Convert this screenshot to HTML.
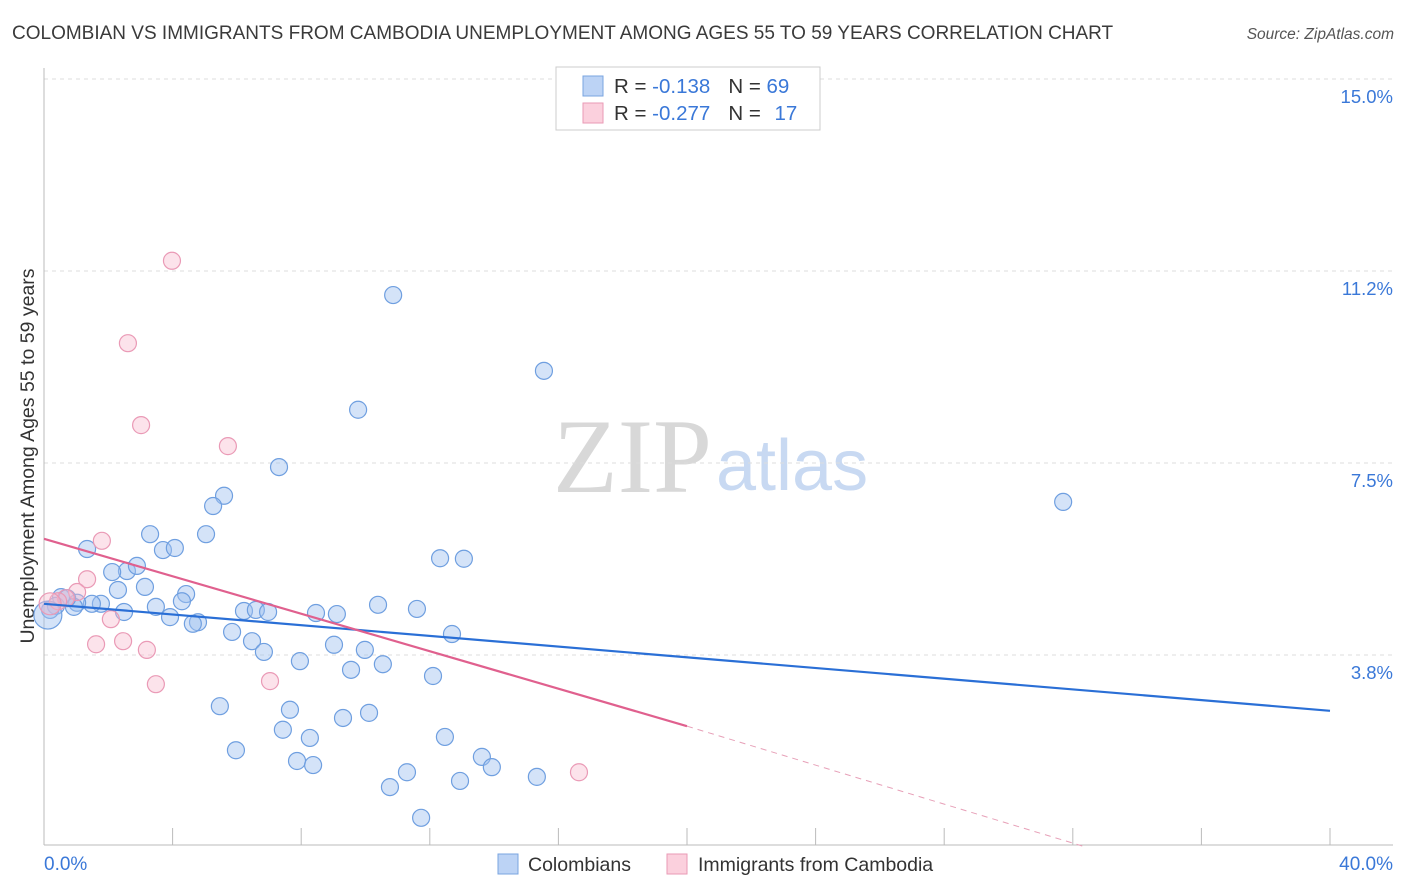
<!DOCTYPE html>
<html><head><meta charset="utf-8"><style>
body{margin:0;background:#fff;font-family:"Liberation Sans",sans-serif;}
svg{display:block}
</style></head><body>
<svg id="chart" width="1406" height="892">
<text x="12" y="39" font-size="19" fill="#3a3a3a">COLOMBIAN VS IMMIGRANTS FROM CAMBODIA UNEMPLOYMENT AMONG AGES 55 TO 59 YEARS CORRELATION CHART</text>
<text x="1394" y="39" font-size="15.5" fill="#555" font-style="italic" text-anchor="end">Source: ZipAtlas.com</text>
<text x="553" y="492" font-size="106" fill="#d8d8d8" font-family="Liberation Serif, serif">ZIP</text>
<text x="716" y="490" font-size="72" fill="#c8d9f2">atlas</text>
<g id="grid"></g>
<line x1="44" y1="68" x2="44" y2="845" stroke="#bbb"/>
<line x1="44" y1="845" x2="1393" y2="845" stroke="#bbb"/>
<text transform="translate(34,456) rotate(-90)" font-size="19.5" fill="#333" text-anchor="middle">Unemployment Among Ages 55 to 59 years</text>
<text x="44" y="870" font-size="19" fill="#3a78d8">0.0%</text>
<text x="1393" y="870" font-size="19" fill="#3a78d8" text-anchor="end">40.0%</text>
<g id="pts"></g>
<g id="lines"></g>
<g>
<rect x="556" y="67" width="264" height="63" fill="#fff" stroke="#ccc"/>
<rect x="583" y="76" width="20" height="20" fill="#bcd3f5" stroke="#7aa5e0"/>
<rect x="583" y="103" width="20" height="20" fill="#fbd0dd" stroke="#e99ab5"/>
<text x="614" y="93" font-size="20.5" fill="#333">R = <tspan fill="#3a78d8">-0.138</tspan><tspan dx="18">N = </tspan><tspan fill="#3a78d8">69</tspan></text>
<text x="614" y="120" font-size="20.5" fill="#333">R = <tspan fill="#3a78d8">-0.277</tspan><tspan dx="18">N = </tspan><tspan fill="#3a78d8" dx="8">17</tspan></text>
</g>
<rect x="498" y="854" width="20" height="20" fill="#bcd3f5" stroke="#7aa5e0"/>
<text x="528" y="871" font-size="19.5" fill="#333">Colombians</text>
<rect x="667" y="854" width="20" height="20" fill="#fbd0dd" stroke="#e99ab5"/>
<text x="698" y="871" font-size="19.5" fill="#333">Immigrants from Cambodia</text>
</svg>
<script>
const yTicks=[3.75,7.5,11.25,15];
const yTickLabels=["3.8%","7.5%","11.2%","15.0%"];
const xTicks=[4,8,12,16,20,24,28,32,36,40];
const blueX=[10.86,15.55,9.77,7.31,31.70,5.60,5.26,3.30,5.04,1.34,3.70,4.07,12.32,13.06,2.58,2.12,2.89,3.14,2.30,4.42,4.29,3.48,2.49,3.92,1.77,1.49,1.03,0.93,0.53,0.37,0.19,0.12,6.22,6.59,6.97,8.46,9.11,10.39,11.60,4.79,4.63,5.85,12.69,6.47,6.84,9.02,9.98,7.96,9.55,10.54,12.10,5.47,7.65,9.30,10.11,7.43,8.27,12.47,5.97,7.87,8.37,13.62,13.93,11.29,12.94,15.33,10.76,11.73,0.72];
const blueY=[10.78,9.30,8.54,7.42,6.74,6.86,6.66,6.11,6.11,5.82,5.80,5.84,5.64,5.63,5.39,5.37,5.49,5.08,5.02,4.94,4.80,4.69,4.59,4.49,4.75,4.75,4.77,4.69,4.88,4.71,4.63,4.53,4.61,4.63,4.59,4.57,4.55,4.73,4.65,4.39,4.36,4.20,4.16,4.02,3.81,3.95,3.85,3.63,3.46,3.57,3.34,2.75,2.68,2.52,2.62,2.29,2.13,2.15,1.89,1.68,1.60,1.76,1.56,1.46,1.29,1.37,1.17,0.57,4.86];
const pinkX=[3.98,2.61,3.02,5.72,1.80,1.34,1.03,0.68,0.44,0.19,2.08,2.46,1.62,3.20,3.48,7.03,16.64];
const pinkY=[11.45,9.84,8.24,7.83,5.98,5.23,4.98,4.86,4.80,4.75,4.45,4.02,3.96,3.85,3.18,3.24,1.46];
const blueTrendX=[0,40];
const blueTrendY=[4.75,2.66];
const pinkTrendX=[0,20,32.4];
const pinkTrendY=[6.02,2.36,0];
const NS="http://www.w3.org/2000/svg";
const xs=v=>44+v*1286/40;
const ys=v=>847-v*51.2;
function mk(tag,attrs,parent){const e=document.createElementNS(NS,tag);for(const k in attrs)e.setAttribute(k,attrs[k]);parent.appendChild(e);return e;}
const grid=document.getElementById('grid');
mk('line',{x1:44,y1:79,x2:1393,y2:79,stroke:'#ddd','stroke-dasharray':'4,4'},grid);
yTicks.forEach((t,i)=>{
  const l=mk('line',{x1:44,y1:ys(t),x2:1393,y2:ys(t),stroke:'#ddd','stroke-dasharray':'4,4'},grid);
  
  
  const tx=mk('text',{x:1393,y:ys(t)+24,'font-size':18.5,fill:'#3a78d8','text-anchor':'end'},grid);
  tx.textContent=yTickLabels[i];
  
  
});
xTicks.forEach(t=>{
  const l=mk('line',{x1:xs(t),y1:828,x2:xs(t),y2:845,stroke:'#bbb'},grid);
  
  
});
const pts=document.getElementById('pts');
blueX.forEach((x,i)=>{
  const big=i===31;
  const c=mk('circle',{cx:xs(x),cy:ys(blueY[i]),r:big?14:8.5,fill:'rgba(160,192,240,0.45)',stroke:'#6f9fe0','stroke-width':1.2},pts);
  
  
});
pinkX.forEach((x,i)=>{
  const c=mk('circle',{cx:xs(x),cy:ys(pinkY[i]),r:i===9?11:8.5,fill:'rgba(248,185,205,0.4)',stroke:'#ea9ab6','stroke-width':1.2},pts);
  
  
});
const lines=document.getElementById('lines');
const bl=mk('line',{x1:xs(blueTrendX[0]),y1:ys(blueTrendY[0]),x2:xs(blueTrendX[1]),y2:ys(blueTrendY[1]),stroke:'#2a6fd6','stroke-width':2.2},lines);


const pl=mk('line',{x1:xs(pinkTrendX[0]),y1:ys(pinkTrendY[0]),x2:xs(pinkTrendX[1]),y2:ys(pinkTrendY[1]),stroke:'#e0608e','stroke-width':2.2},lines);


const pd=mk('line',{x1:xs(pinkTrendX[1]),y1:ys(pinkTrendY[1]),x2:xs(pinkTrendX[2]),y2:ys(pinkTrendY[2]),stroke:'#e7a0b8','stroke-width':1,'stroke-dasharray':'6,5'},lines);


</script>
</body></html>
